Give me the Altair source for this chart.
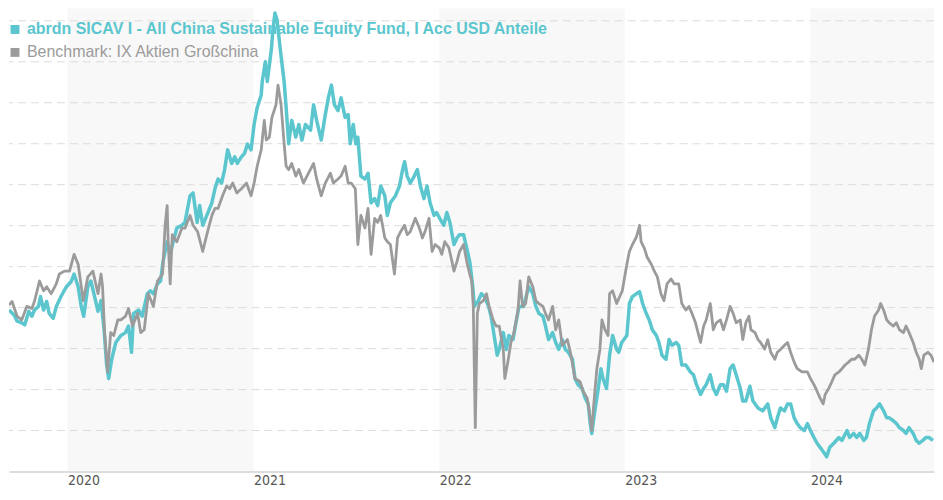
import altair as alt
import pandas as pd

fund_name = "abrdn SICAV I - All China Sustainable Equity Fund, I Acc USD Anteile"
bench_name = "Benchmark: IX Aktien Großchina"
year_ticks = [2020, 2021, 2022, 2023, 2024]
band_years = [2020, 2022, 2024]
grid_values = [70, 80, 90, 100, 110, 120, 130, 140, 150, 160, 170]

# Fund (index, start = 100), time as decimal year
fund_t = [
    2019.686, 2019.713, 2019.729, 2019.755, 2019.771, 2019.793, 2019.809, 2019.824, 2019.846, 2019.856,
    2019.872, 2019.888, 2019.904, 2019.926, 2019.941, 2019.968, 2019.995,
    2020.021, 2020.037, 2020.059, 2020.074, 2020.090, 2020.112, 2020.128, 2020.144, 2020.165, 2020.181,
    2020.197, 2020.213, 2020.223, 2020.239, 2020.261, 2020.287, 2020.314, 2020.330, 2020.346, 2020.356,
    2020.383, 2020.404, 2020.431, 2020.447, 2020.463, 2020.484, 2020.500, 2020.516, 2020.537, 2020.553,
    2020.569, 2020.590, 2020.617, 2020.633, 2020.660, 2020.676, 2020.697, 2020.713, 2020.729, 2020.750,
    2020.777, 2020.793, 2020.809, 2020.830, 2020.846, 2020.862, 2020.883, 2020.899, 2020.915, 2020.936,
    2020.952, 2020.968, 2020.989,
    2021.005, 2021.021, 2021.043, 2021.048, 2021.064, 2021.074, 2021.096, 2021.106, 2021.117, 2021.128,
    2021.149, 2021.165, 2021.176, 2021.191, 2021.207, 2021.229, 2021.245, 2021.261, 2021.282, 2021.309,
    2021.324, 2021.340, 2021.367, 2021.388, 2021.404, 2021.420, 2021.436, 2021.457, 2021.473, 2021.495,
    2021.511, 2021.521, 2021.537, 2021.553, 2021.564, 2021.580, 2021.601, 2021.617, 2021.633, 2021.654,
    2021.670, 2021.686, 2021.707, 2021.723, 2021.739, 2021.766, 2021.787, 2021.803, 2021.814, 2021.830,
    2021.846, 2021.867, 2021.883, 2021.899, 2021.920, 2021.936, 2021.952, 2021.973, 2021.989,
    2022.005, 2022.027, 2022.043, 2022.059, 2022.080, 2022.096, 2022.112, 2022.133, 2022.149, 2022.165,
    2022.181, 2022.191, 2022.213, 2022.229, 2022.245, 2022.266, 2022.282, 2022.298, 2022.314, 2022.324,
    2022.346, 2022.362, 2022.378, 2022.399, 2022.415, 2022.431, 2022.457, 2022.484, 2022.505, 2022.521,
    2022.537, 2022.559, 2022.574, 2022.590, 2022.612, 2022.628, 2022.644, 2022.665, 2022.681, 2022.697,
    2022.718, 2022.734, 2022.750, 2022.771, 2022.787, 2022.803, 2022.814, 2022.824, 2022.840, 2022.856,
    2022.872, 2022.883, 2022.904, 2022.920, 2022.936, 2022.957, 2022.968, 2022.984,
    2023.011, 2023.027, 2023.043, 2023.064, 2023.080, 2023.096, 2023.117, 2023.133, 2023.149, 2023.170,
    2023.186, 2023.202, 2023.223, 2023.239, 2023.255, 2023.277, 2023.293, 2023.309, 2023.330, 2023.356,
    2023.372, 2023.388, 2023.410, 2023.426, 2023.441, 2023.463, 2023.479, 2023.495, 2023.516, 2023.532,
    2023.548, 2023.569, 2023.585, 2023.601, 2023.622, 2023.638, 2023.654, 2023.676, 2023.691, 2023.718,
    2023.745, 2023.771, 2023.787, 2023.809, 2023.824, 2023.840, 2023.862, 2023.878, 2023.894, 2023.915,
    2023.931, 2023.947, 2023.968, 2023.984,
    2024.000, 2024.021, 2024.037, 2024.053, 2024.074, 2024.090, 2024.106, 2024.128, 2024.154, 2024.170,
    2024.197, 2024.213, 2024.234, 2024.250, 2024.266, 2024.287, 2024.303, 2024.319, 2024.340, 2024.356,
    2024.372, 2024.394, 2024.410, 2024.426, 2024.447, 2024.463, 2024.479, 2024.500, 2024.516, 2024.532,
    2024.553, 2024.569, 2024.585, 2024.606, 2024.622, 2024.638, 2024.660,
]
fund_v = [
    99.4, 98.2, 96.7, 96.3, 95.8, 99.1, 97.9, 99.4, 100.3, 102.7,
    99.4, 101.5, 98.6, 97.4, 100.3, 102.9, 105.1,
    106.3, 108.2, 105.1, 100.3, 97.9, 105.1, 106.5, 103.4, 99.1, 101.7,
    94.6, 86.0, 82.7, 87.4, 91.5, 93.2, 93.9, 95.5, 89.1, 98.6,
    99.4, 97.9, 103.4, 104.1, 103.4, 105.8, 106.5, 111.3, 116.1, 113.0,
    116.1, 119.4, 120.1, 120.8, 127.3, 128.0, 120.8, 124.9, 120.1, 122.5,
    125.6, 129.0, 131.4, 130.4, 133.7, 138.5, 135.2, 136.8, 135.2, 136.8,
    137.6, 139.9, 138.5,
    144.7, 148.8, 151.9, 155.2, 160.0, 155.2, 163.1, 167.9, 171.9, 170.3,
    161.4, 155.2, 148.8, 140.0, 145.7, 141.6, 144.7, 140.9, 144.7, 143.3,
    149.5, 145.7, 140.9, 147.1, 151.2, 154.3, 149.5, 148.1, 151.2, 146.4,
    147.1, 140.0, 144.7, 140.0, 141.6, 132.1, 131.4, 132.8, 125.6, 126.6,
    124.9, 129.7, 127.3, 122.5, 125.6, 127.3, 129.7, 133.7, 135.6, 132.1,
    130.4, 132.1, 133.7, 129.7, 126.6, 129.7, 125.6, 122.5, 123.2,
    121.8, 120.1, 123.2, 120.8, 115.4, 117.0, 117.8, 117.8, 114.6, 111.3,
    105.1, 100.3, 101.7, 103.4, 102.7, 100.3, 97.9, 93.2, 88.4, 89.8,
    93.9, 89.8, 93.2, 92.2, 96.3, 100.3, 100.3, 105.1, 103.4, 100.3,
    98.6, 97.9, 95.5, 92.2, 93.9, 91.5, 89.8, 92.2, 89.8, 89.1,
    87.4, 82.7, 81.2, 80.3, 77.9, 76.5, 71.7, 69.3, 74.8, 79.6,
    85.1, 82.7, 80.3, 88.4, 93.2, 89.8, 89.1, 91.5,
    93.2, 101.0, 102.7, 103.4, 103.9, 101.0, 98.6, 97.0, 94.6, 93.2,
    91.5, 88.4, 87.4, 92.2, 90.8, 91.5, 90.8, 86.0, 86.0, 84.3,
    83.6, 81.2, 78.8, 80.3, 81.2, 83.6, 80.3, 78.8, 81.2, 81.2,
    79.6, 85.1, 86.0, 83.6, 80.3, 77.2, 77.2, 80.8, 77.2, 75.5,
    74.8, 76.5, 73.1, 70.7, 73.1, 75.5, 74.8, 76.5, 76.5, 73.1,
    71.7, 70.7, 70.0, 71.7,
    70.0, 68.3, 66.9, 65.9, 64.5, 63.6, 65.9, 66.9, 68.3, 67.6,
    70.0, 68.3, 69.3, 68.3, 69.3, 67.6, 68.3, 71.7, 74.8, 75.5,
    76.5, 74.8, 73.1, 73.1, 72.4, 71.7, 70.7, 70.0, 69.3, 70.7,
    69.3, 67.6, 66.9, 67.6, 68.3, 68.3, 67.6,
]

# Benchmark (index, start = 100)
bench_t = [
    2019.686, 2019.702, 2019.729, 2019.755, 2019.782, 2019.809, 2019.824, 2019.851, 2019.872, 2019.888,
    2019.915, 2019.941, 2019.957, 2019.984,
    2020.011, 2020.037, 2020.059, 2020.085, 2020.112, 2020.138, 2020.165, 2020.181, 2020.191, 2020.202,
    2020.218, 2020.234, 2020.250, 2020.271, 2020.287, 2020.314, 2020.330, 2020.351, 2020.378, 2020.394,
    2020.415, 2020.436, 2020.463, 2020.484, 2020.511, 2020.527, 2020.537, 2020.543, 2020.553, 2020.564,
    2020.590, 2020.617, 2020.633, 2020.660, 2020.676, 2020.702, 2020.729, 2020.750, 2020.777, 2020.793,
    2020.809, 2020.835, 2020.856, 2020.872, 2020.888, 2020.910, 2020.936, 2020.963, 2020.989,
    2021.005, 2021.021, 2021.043, 2021.059, 2021.069, 2021.085, 2021.101, 2021.122, 2021.133, 2021.149,
    2021.165, 2021.176, 2021.191, 2021.207, 2021.229, 2021.245, 2021.271, 2021.298, 2021.324, 2021.340,
    2021.367, 2021.388, 2021.415, 2021.431, 2021.457, 2021.473, 2021.495, 2021.511, 2021.527, 2021.548,
    2021.564, 2021.580, 2021.601, 2021.617, 2021.633, 2021.654, 2021.670, 2021.686, 2021.707, 2021.723,
    2021.739, 2021.761, 2021.777, 2021.793, 2021.814, 2021.830, 2021.846, 2021.872, 2021.894, 2021.910,
    2021.926, 2021.947, 2021.963, 2021.979,
    2022.000, 2022.016, 2022.032, 2022.053, 2022.069, 2022.080, 2022.096, 2022.112, 2022.133, 2022.149,
    2022.165, 2022.176, 2022.186, 2022.197, 2022.207, 2022.218, 2022.239, 2022.255, 2022.271, 2022.293,
    2022.309, 2022.324, 2022.346, 2022.356, 2022.372, 2022.388, 2022.404, 2022.426, 2022.436, 2022.452,
    2022.468, 2022.484, 2022.505, 2022.521, 2022.537, 2022.559, 2022.574, 2022.590, 2022.612, 2022.628,
    2022.644, 2022.665, 2022.691, 2022.707, 2022.734, 2022.761, 2022.777, 2022.798, 2022.809, 2022.824,
    2022.835, 2022.851, 2022.867, 2022.878, 2022.894, 2022.910, 2022.920, 2022.936, 2022.957, 2022.973,
    2022.989,
    2023.011, 2023.027, 2023.043, 2023.064, 2023.080, 2023.090, 2023.106, 2023.122, 2023.144, 2023.160,
    2023.176, 2023.197, 2023.213, 2023.229, 2023.250, 2023.266, 2023.293, 2023.309, 2023.330, 2023.346,
    2023.362, 2023.383, 2023.410, 2023.426, 2023.441, 2023.463, 2023.479, 2023.495, 2023.516, 2023.532,
    2023.548, 2023.569, 2023.585, 2023.601, 2023.622, 2023.638, 2023.654, 2023.670, 2023.681, 2023.702,
    2023.718, 2023.734, 2023.755, 2023.771, 2023.787, 2023.809, 2023.824, 2023.840, 2023.862, 2023.878,
    2023.894, 2023.915, 2023.931, 2023.957, 2023.984,
    2024.000, 2024.021, 2024.037, 2024.053, 2024.069, 2024.080, 2024.101, 2024.117, 2024.133, 2024.154,
    2024.170, 2024.186, 2024.207, 2024.223, 2024.239, 2024.261, 2024.277, 2024.293, 2024.314, 2024.330,
    2024.346, 2024.367, 2024.378, 2024.394, 2024.410, 2024.426, 2024.447, 2024.463, 2024.479, 2024.500,
    2024.516, 2024.532, 2024.553, 2024.569, 2024.585, 2024.596, 2024.612, 2024.633, 2024.649, 2024.665,
]
bench_v = [
    100.6, 101.5, 97.9, 97.0, 100.3, 99.8, 101.5, 106.5, 104.1, 105.1,
    103.4, 105.8, 108.2, 108.9,
    108.9, 113.0, 110.6, 101.7, 107.5, 108.9, 103.4, 108.2, 105.1, 93.9,
    84.3, 93.9, 93.2, 97.0, 97.0, 97.9, 99.8, 95.5, 98.6, 93.9,
    94.6, 103.4, 100.3, 106.5, 108.2, 120.1, 124.9, 116.1, 105.8, 117.8,
    116.1, 119.4, 119.4, 122.5, 120.1, 118.5, 113.7, 117.8, 122.5, 124.2,
    124.2, 127.3, 129.7, 129.0, 130.4, 128.0, 129.0, 130.4, 127.3,
    130.4, 134.5, 138.5, 145.7, 140.9, 141.6, 146.4, 149.5, 154.3, 149.5,
    140.0, 134.5, 133.7, 135.2, 132.1, 133.7, 130.4, 132.8, 135.2, 131.4,
    127.3, 130.4, 132.8, 130.4, 131.4, 132.1, 134.5, 130.4, 130.4, 129.0,
    115.4, 122.5, 119.4, 124.2, 113.0, 121.8, 120.8, 122.5, 117.0, 116.1,
    115.4, 108.2, 117.0, 118.5, 120.1, 117.8, 118.5, 121.8, 119.4, 117.0,
    118.5, 121.8, 113.7, 115.4,
    114.6, 113.0, 116.1, 114.6, 111.3, 108.9, 111.3, 113.7, 115.4, 111.3,
    108.2, 106.5, 100.3, 70.7, 98.6, 101.0, 101.7, 103.4, 100.3, 97.0,
    95.5, 95.5, 89.8, 82.7, 86.7, 91.5, 93.9, 99.4, 106.5, 100.3,
    101.0, 107.5, 105.1, 101.7, 101.0, 100.3, 98.6, 97.0, 100.3, 94.6,
    97.0, 90.8, 92.2, 89.1, 82.7, 81.9, 79.6, 77.9, 74.8, 70.0,
    76.5, 85.1, 89.8, 97.0, 94.6, 93.2, 103.4, 104.1, 101.0, 102.7,
    104.1,
    110.6, 113.7, 115.4, 117.3, 120.1, 116.1, 114.6, 112.3, 110.6, 108.9,
    107.5, 103.4, 101.7, 105.8, 107.0, 105.8, 105.8, 101.0, 99.4, 100.3,
    98.6, 96.3, 91.5, 95.5, 97.0, 101.0, 94.6, 96.3, 97.0, 94.6,
    97.0, 100.3, 98.6, 96.3, 97.0, 92.2, 96.3, 97.9, 94.6, 93.9,
    92.2, 91.5, 89.9, 92.2, 89.1, 87.4, 89.1, 89.8, 90.8, 91.5,
    89.1, 86.7, 85.1, 84.3, 84.3,
    82.7, 81.2, 79.6, 77.9, 76.5, 78.8, 80.3, 81.9, 83.6, 84.3,
    85.1, 86.0, 86.7, 87.4, 87.4, 88.4, 87.4, 86.0, 89.8, 94.6,
    97.9, 99.4, 101.0, 99.4, 97.0, 96.3, 95.5, 96.3, 94.6, 93.9,
    95.5, 93.9, 91.5, 89.1, 87.4, 85.1, 88.4, 89.1, 88.4, 86.7,
]

TEAL = "#5bc6ce"
GREY = "#9b9b9b"
W, H = 927, 464


def to_date(t):
    y = int(t)
    start = pd.Timestamp(year=y, month=1, day=1)
    end = pd.Timestamp(year=y + 1, month=1, day=1)
    return (start + (end - start) * (t - y)).normalize()


fund_df = pd.DataFrame({"date": [to_date(t) for t in fund_t], "v": fund_v})
bench_df = pd.DataFrame({"date": [to_date(t) for t in bench_t], "v": bench_v})

d0 = to_date(min(fund_t[0], bench_t[0]))
d1 = to_date(max(fund_t[-1], bench_t[-1]))

bands_df = pd.DataFrame({
    "start": [pd.Timestamp(year=y, month=1, day=1) for y in band_years],
    "end": [min(pd.Timestamp(year=y + 1, month=1, day=1), d1) for y in band_years],
})

xscale = alt.Scale(domain=[alt.DateTime(year=d0.year, month=d0.month, date=d0.day),
                           alt.DateTime(year=d1.year, month=d1.month, date=d1.day)])
yscale = alt.Scale(domain=[60, 173], nice=False, zero=False)
xaxis = alt.Axis(
    values=[alt.DateTime(year=y, month=1, date=1) for y in year_ticks],
    format="%Y", labelAlign="left", labelFlush=False, labelOverlap=False,
    ticks=False, grid=False, domainColor="#dddddd", domainWidth=2,
    labelColor="#555555", labelFont="DejaVu Sans Condensed, Liberation Sans Narrow, Roboto",
    labelFontSize=14, labelPadding=2, title=None, zindex=1,
)

bands = alt.Chart(bands_df).mark_rect(color="#f8f8f8").encode(
    x=alt.X("start:T", scale=xscale, axis=xaxis), x2="end:T"
)

grid = alt.Chart(pd.DataFrame({"g": grid_values})).mark_rule(
    color="#dcdcdc", strokeDash=[8, 5], strokeWidth=1
).encode(y=alt.Y("g:Q", scale=yscale, axis=None))

legend_font = "Liberation Sans, Arial, Helvetica"
leg_fund_sq = alt.Chart(pd.DataFrame({"label": [fund_name]})).mark_square(
    color=TEAL, size=80, opacity=1
).encode(x=alt.value(6), y=alt.value(21))
leg_fund = alt.Chart(pd.DataFrame({"label": [fund_name]})).mark_text(
    align="left", baseline="middle", font=legend_font, fontSize=16, fontWeight="bold", color=TEAL
).encode(x=alt.value(18), y=alt.value(21), text="label:N")
leg_bench_sq = alt.Chart(pd.DataFrame({"label": [bench_name]})).mark_square(
    color=GREY, size=80, opacity=1
).encode(x=alt.value(6), y=alt.value(44))
leg_bench = alt.Chart(pd.DataFrame({"label": [bench_name]})).mark_text(
    align="left", baseline="middle", font=legend_font, fontSize=16, color=GREY
).encode(x=alt.value(18), y=alt.value(44), text="label:N")

fund_line = alt.Chart(fund_df).mark_line(
    color=TEAL, strokeWidth=3.5, strokeJoin="round", clip=True
).encode(
    x=alt.X("date:T", scale=xscale, axis=xaxis),
    y=alt.Y("v:Q", scale=yscale, axis=None),
)
bench_line = alt.Chart(bench_df).mark_line(
    color=GREY, strokeWidth=2.8, strokeJoin="round", clip=True
).encode(
    x=alt.X("date:T", scale=xscale, axis=xaxis),
    y=alt.Y("v:Q", scale=yscale, axis=None),
)

chart = alt.layer(
    bands, grid, leg_fund_sq, leg_fund, leg_bench_sq, leg_bench, fund_line, bench_line
).properties(
    width=W, height=H, padding=0
).configure_view(stroke=None)

chart.save("out.html", embed_options={"renderer": "svg", "actions": False})
